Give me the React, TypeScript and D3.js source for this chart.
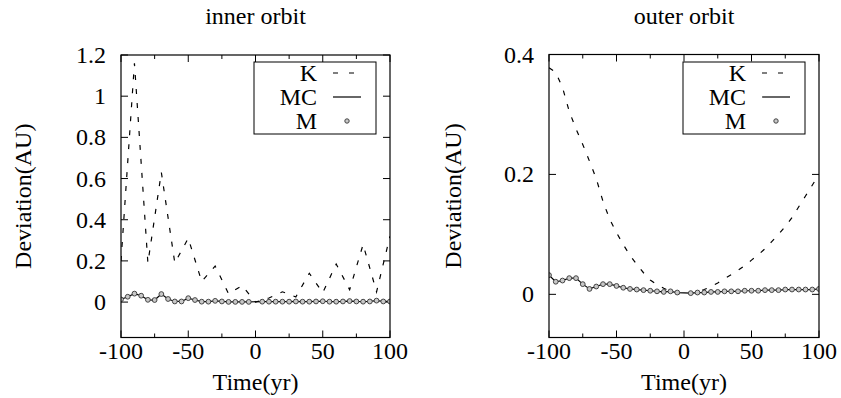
import React from "react";
import * as d3 from "d3";

// ---------- data ----------
const innerKTime = [-100, -90, -80, -70, -60, -50, -40, -30, -20, -10, 0, 10, 20, 30, 40, 50, 60, 70, 80, 90, 100];
const innerK = [0.2, 1.16, 0.19, 0.63, 0.19, 0.31, 0.1, 0.175, 0.04, 0.08, 0.0, 0.02, 0.05, 0.025, 0.14, 0.045, 0.185, 0.06, 0.28, 0.05, 0.32];

const mTime = [-100, -95, -90, -85, -80, -75, -70, -65, -60, -55, -50, -45, -40, -35, -30, -25, -20, -15, -10, -5,
  5, 10, 15, 20, 25, 30, 35, 40, 45, 50, 55, 60, 65, 70, 75, 80, 85, 90, 95, 100];
const innerMC = [0.013, 0.026, 0.041, 0.031, 0.011, 0.01, 0.039, 0.015, 0.003, 0.003, 0.019, 0.01, 0.002, 0.002, 0.006, 0.003, 0.001, 0.001, 0.001, 0.001,
  0.002, 0.002, 0.002, 0.002, 0.002, 0.003, 0.002, 0.002, 0.003, 0.004, 0.002, 0.002, 0.003, 0.005, 0.003, 0.002, 0.003, 0.007, 0.003, 0.003];
const innerM = [0.013, 0.026, 0.041, 0.031, 0.011, 0.01, 0.039, 0.015, 0.003, 0.003, 0.019, 0.01, 0.002, 0.002, 0.006, 0.003, 0.001, 0.001, 0.001, 0.001,
  0.002, 0.002, 0.002, 0.002, 0.002, 0.003, 0.002, 0.002, 0.003, 0.004, 0.002, 0.002, 0.003, 0.005, 0.003, 0.002, 0.003, 0.007, 0.003, 0.003];

const outerKTime = [-100, -95, -90, -85, -80, -75, -70, -65, -60, -55, -50, -45, -40, -35, -30, -25, -20, -15, -10, -5, 0,
  5, 10, 15, 20, 25, 30, 35, 40, 45, 50, 55, 60, 65, 70, 75, 80, 85, 90, 95, 100];
const outerK = [0.378, 0.37, 0.345, 0.305, 0.276, 0.25, 0.222, 0.193, 0.155, 0.125, 0.103, 0.083, 0.065, 0.05, 0.036, 0.024, 0.016, 0.01, 0.005, 0.002, 0.0,
  0.001, 0.004, 0.008, 0.013, 0.019, 0.026, 0.033, 0.04, 0.048, 0.057, 0.066, 0.076, 0.088, 0.1, 0.113, 0.128, 0.146, 0.164, 0.182, 0.2];
const outerMC = [0.032, 0.021, 0.023, 0.027, 0.027, 0.017, 0.009, 0.013, 0.017, 0.017, 0.014, 0.011, 0.009, 0.008, 0.007, 0.006, 0.005, 0.004, 0.005, 0.003,
  0.002, 0.003, 0.003, 0.004, 0.004, 0.005, 0.005, 0.005, 0.006, 0.006, 0.006, 0.007, 0.007, 0.007, 0.008, 0.008, 0.008, 0.008, 0.008, 0.009];
const outerM = [0.032, 0.021, 0.023, 0.027, 0.027, 0.017, 0.009, 0.013, 0.017, 0.017, 0.014, 0.011, 0.009, 0.008, 0.007, 0.006, 0.005, 0.004, 0.005, 0.003,
  0.002, 0.003, 0.003, 0.004, 0.004, 0.005, 0.005, 0.005, 0.006, 0.006, 0.006, 0.007, 0.007, 0.007, 0.008, 0.008, 0.008, 0.008, 0.008, 0.009];

const xTicks = [-100, -50, 0, 50, 100];
const xMinorTicks = [-75, -25, 25, 75];
const innerYTicks = [0, 0.2, 0.4, 0.6, 0.8, 1, 1.2];
const innerYLabels = ["0", "0.2", "0.4", "0.6", "0.8", "1", "1.2"];
const outerYTicks = [0, 0.2, 0.4];
const outerYLabels = ["0", "0.2", "0.4"];
const legendLabels = ["K", "MC", "M"];
const titles = ["inner orbit", "outer orbit"];

const FS = 24;

type PanelProps = {
  x0: number; x1: number; yTop: number; yBot: number;
  yDomain: [number, number];
  yTicks: number[]; yLabels: string[];
  kT: number[]; kV: number[];
  mcV: number[]; mV: number[];
  title: string;
  yLabelX: number;
  legendX0: number; legendX1: number;
};

function Panel(p: PanelProps) {
  const x = d3.scaleLinear().domain([-100, 100]).range([p.x0, p.x1]);
  const y = d3.scaleLinear().domain(p.yDomain).range([p.yBot, p.yTop]);
  const line = d3.line<[number, number]>().x((d) => x(d[0])).y((d) => y(d[1]));
  const kPts = p.kT.map((t, i) => [t, p.kV[i]] as [number, number]);
  const mcPts = mTime.map((t, i) => [t, p.mcV[i]] as [number, number]);
  const mPts = mTime.map((t, i) => [t, p.mV[i]] as [number, number]);
  const cx = (p.x0 + p.x1) / 2;
  const cy = (p.yTop + p.yBot) / 2;
  const major = 7, minor = 4;
  const legTextX = p.legendX0 + 63;
  const sampleX0 = p.legendX0 + 79;
  const sampleX1 = p.legendX0 + 107;
  const legYs = [73, 97, 121];
  return (
    <g>
      <text x={cx} y={24} textAnchor="middle" fontSize={FS}>{p.title}</text>
      <text transform={`translate(${p.yLabelX},${cy}) rotate(-90)`} textAnchor="middle" fontSize={FS}>Deviation(AU)</text>
      <text x={cx} y={390} textAnchor="middle" fontSize={FS}>Time(yr)</text>
      <defs>
        <clipPath id={`clip-${p.x0}`}>
          <rect x={p.x0} y={p.yTop} width={p.x1 - p.x0} height={p.yBot - p.yTop} />
        </clipPath>
      </defs>
      {xTicks.map((t) => (
        <g key={`xt${t}`}>
          <line x1={x(t)} x2={x(t)} y1={p.yBot} y2={p.yBot - major} stroke="#000" />
          <line x1={x(t)} x2={x(t)} y1={p.yTop} y2={p.yTop + major} stroke="#000" />
          <text x={x(t)} y={359} textAnchor="middle" fontSize={FS}>{t}</text>
        </g>
      ))}
      {xMinorTicks.map((t) => (
        <g key={`xm${t}`}>
          <line x1={x(t)} x2={x(t)} y1={p.yBot} y2={p.yBot - minor} stroke="#000" />
          <line x1={x(t)} x2={x(t)} y1={p.yTop} y2={p.yTop + minor} stroke="#000" />
        </g>
      ))}
      {p.yTicks.map((v, i) => (
        <g key={`yt${v}`}>
          <line x1={p.x0} x2={p.x0 + major} y1={y(v)} y2={y(v)} stroke="#000" />
          <line x1={p.x1} x2={p.x1 - major} y1={y(v)} y2={y(v)} stroke="#000" />
          <text x={p.x0 - 15} y={y(v) + 8} textAnchor="end" fontSize={FS}>{p.yLabels[i]}</text>
        </g>
      ))}
      <g clipPath={`url(#clip-${p.x0})`}>
        <path d={line(kPts) || ""} fill="none" stroke="#000" strokeWidth={1.2} strokeDasharray="5,9" />
        <path d={line(mcPts) || ""} fill="none" stroke="#000" strokeWidth={1.2} />
        {mPts.map((d, i) => (
          <circle key={i} cx={x(d[0])} cy={y(d[1])} r={2.4} fill="#c8c8c8" stroke="#444" strokeWidth={1} />
        ))}
      </g>
      <rect x={p.x0} y={p.yTop} width={p.x1 - p.x0} height={p.yBot - p.yTop} fill="none" stroke="#000" strokeWidth={1.2} />
      <rect x={p.legendX0} y={62} width={p.legendX1 - p.legendX0} height={72} fill="#fff" stroke="#000" strokeWidth={1} />
      {legendLabels.map((l, i) => (
        <text key={l} x={legTextX} y={legYs[i] + 8} textAnchor="end" fontSize={FS}>{l}</text>
      ))}
      <line x1={sampleX0} x2={sampleX1} y1={legYs[0]} y2={legYs[0]} stroke="#000" strokeWidth={1.2} strokeDasharray="5,11" />
      <line x1={sampleX0} x2={sampleX1} y1={legYs[1]} y2={legYs[1]} stroke="#000" strokeWidth={1.2} />
      <circle cx={(sampleX0 + sampleX1) / 2} cy={legYs[2]} r={2.2} fill="#c8c8c8" stroke="#444" strokeWidth={1} />
    </g>
  );
}

export default function App() {
  return (
    <svg width={841} height={398} fontFamily="Liberation Serif"
      style={{ position: "absolute", left: 0, top: 0, background: "#fff", fontFamily: "Liberation Serif" }}>
      <rect x={0} y={0} width={841} height={398} fill="#fff" />
      <Panel x0={121} x1={390} yTop={55} yBot={337.5} yDomain={[-0.172, 1.2]}
        yTicks={innerYTicks} yLabels={innerYLabels}
        kT={innerKTime} kV={innerK} mcV={innerMC} mV={innerM}
        title={titles[0]} yLabelX={31} legendX0={254} legendX1={376} />
      <Panel x0={549} x1={819} yTop={54.5} yBot={337.5} yDomain={[-0.072, 0.4]}
        yTicks={outerYTicks} yLabels={outerYLabels}
        kT={outerKTime} kV={outerK} mcV={outerMC} mV={outerM}
        title={titles[1]} yLabelX={461} legendX0={683} legendX1={805} />
    </svg>
  );
}
